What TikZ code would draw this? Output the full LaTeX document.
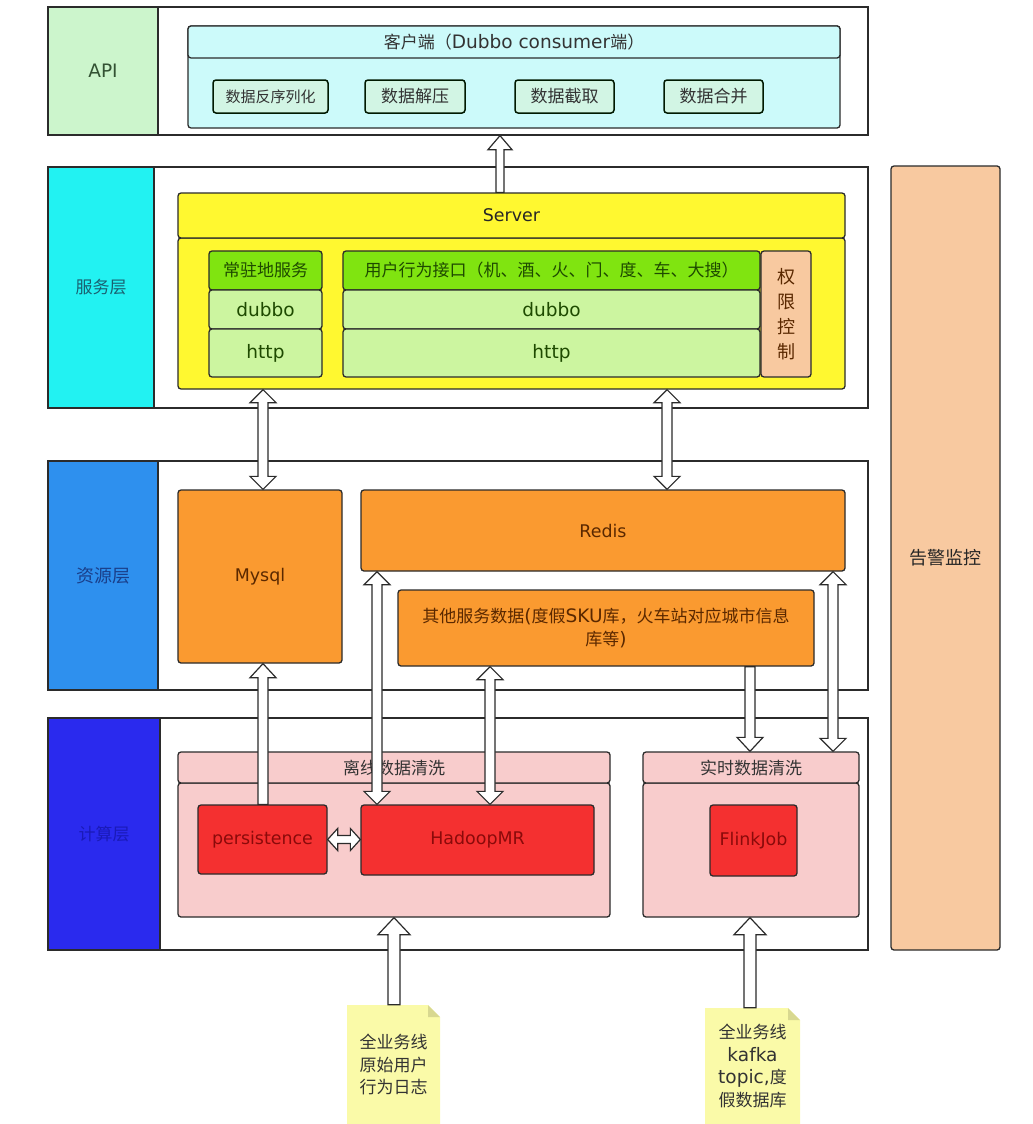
\documentclass[tikz,border=0pt]{standalone}
\usepackage{fontspec}
\setmainfont{Noto Sans CJK SC}
\newfontfamily\lt[Scale=1.09]{DejaVu Sans}
\usetikzlibrary{calc}
\definecolor{lc}{HTML}{2B2B2B}
\definecolor{apigreen}{HTML}{CCF5CC}
\definecolor{cyanl}{HTML}{CCFAFA}
\definecolor{smallbox}{HTML}{D2F5E4}
\definecolor{svccyan}{HTML}{22F2F2}
\definecolor{yel}{HTML}{FFF830}
\definecolor{gbright}{HTML}{80E410}
\definecolor{glight}{HTML}{CCF5A0}
\definecolor{peach}{HTML}{F8C9A0}
\definecolor{resblue}{HTML}{2E90EE}
\definecolor{orng}{HTML}{FA9A30}
\definecolor{cmpblue}{HTML}{2A2AEE}
\definecolor{pinkg}{HTML}{F8CCCC}
\definecolor{redn}{HTML}{F43030}
\definecolor{notey}{HTML}{FAFAA8}
\definecolor{notef}{HTML}{D8D890}
\definecolor{browntext}{HTML}{5A2800}
\definecolor{redtext}{HTML}{8A0A0A}
\definecolor{tealtext}{HTML}{1A6070}
\definecolor{navytext}{HTML}{1A3F8A}
\definecolor{cmptext}{HTML}{1A1AB8}
\definecolor{greentext}{HTML}{1E4A00}
\newcommand\bx[7]{%
  \pgfmathsetmacro\bxw{#5-#3}\pgfmathsetmacro\bxh{#6-#4}%
  \node[#2, minimum width=\bxw pt, minimum height=\bxh pt] (#1) at ({(#3+#5)/2},{(#4+#6)/2}) {#7};}
% vertical block arrows: #1 start, #2 end, #3 shaft half, #4 head half, #5 head length
\newcommand\vsingle[5]{%
  \draw[blk] let \p1=#1, \p2=#2, \n1={sign(\y2-\y1)} in
  ({\x1-#3},\y1) -- ({\x1-#3},{\y2-\n1*#5}) -- ({\x1-#4},{\y2-\n1*#5}) -- (\x1,\y2)
  -- ({\x1+#4},{\y2-\n1*#5}) -- ({\x1+#3},{\y2-\n1*#5}) -- ({\x1+#3},\y1) -- cycle;}
\newcommand\vdouble[5]{%
  \draw[blk] let \p1=#1, \p2=#2, \n1={sign(\y2-\y1)} in
  ({\x1-#3},{\y1+\n1*#5}) -- ({\x1-#4},{\y1+\n1*#5}) -- (\x1,\y1) -- ({\x1+#4},{\y1+\n1*#5})
  -- ({\x1+#3},{\y1+\n1*#5}) -- ({\x1+#3},{\y2-\n1*#5}) -- ({\x1+#4},{\y2-\n1*#5}) -- (\x1,\y2)
  -- ({\x1-#4},{\y2-\n1*#5}) -- ({\x1-#3},{\y2-\n1*#5}) -- cycle;}
\begin{document}
\begin{tikzpicture}[x=1pt,y=-1pt,
  rect/.style={draw=lc, line width=1.3pt, inner sep=0pt},
  box/.style={draw=lc, line width=1.3pt, rounded corners=3pt, inner sep=0pt},
  blk/.style={draw=lc, fill=white, line width=1.2pt, line join=miter},
  f15/.style={font=\fontsize{15pt}{19pt}\selectfont},
  f16/.style={font=\fontsize{16pt}{23pt}\selectfont},
  f17/.style={font=\fontsize{17pt}{22.5pt}\selectfont},
  f18/.style={font=\fontsize{18pt}{25pt}\selectfont},
  sbox/.style={box, fill=smallbox, draw=black!75!green!40!black, line width=1.5pt, f15, text=black!80},
  gtop/.style={box, fill=gbright, f17, text=greentext},
  glo/.style={box, fill=glight, f17, text=greentext},
  orbox/.style={box, fill=orng, f16, text=browntext},
  rdbox/.style={box, fill=redn, f16, text=redtext},
  pkbox/.style={box, fill=pinkg, f16, text=black!80}
]
\fill[white] (0,0) rectangle (1033,1124);
\useasboundingbox (0,0) rectangle (1033,1124);

% x positions of the block arrows
\coordinate (xa) at (500,0);
\coordinate (xb) at (263,0);
\coordinate (xc) at (667,0);
\coordinate (xd) at (377,0);
\coordinate (xe) at (490,0);
\coordinate (xf) at (750,0);
\coordinate (xg) at (833,0);
\coordinate (xh) at (394,0);

% ---------------- API layer
\bx{apiout}{rect, fill=white}{48}{7}{868}{135}{}
\bx{apilab}{rect, fill=apigreen, f17, text=green!15!black!80}{48}{7}{158}{135}{\lt API}
\bx{client}{box, fill=cyanl}{188}{26}{840}{128}{}
\bx{clienthead}{box, fill=cyanl, f17, text=black!80}{188}{26}{840}{58}{客户端（{\lt Dubbo consumer}端）}
\bx{s1}{sbox}{213}{80}{328}{113}{数据反序列化}
\bx{s2}{sbox, f17}{365}{80}{465}{113}{数据解压}
\bx{s3}{sbox, f17}{515}{80}{614}{113}{数据截取}
\bx{s4}{sbox, f17}{664}{80}{763}{113}{数据合并}

% ---------------- service layer
\bx{svcout}{rect, fill=white}{48}{167}{868}{408}{}
\bx{svclab}{rect, fill=svccyan, f17, text=tealtext}{48}{167}{154}{408}{服务层}
\bx{srvbody}{box, fill=yel}{178}{238}{845}{389}{}
\bx{srvhead}{box, fill=yel, f16, text=black!85}{178}{193}{845}{238}{\lt Server}
\bx{g1}{gtop}{209}{251}{322}{290}{常驻地服务}
\bx{g2}{glo}{209}{290}{322}{329}{\lt dubbo}
\bx{g3}{glo}{209}{329}{322}{377}{\lt http}
\bx{u1}{gtop}{343}{251}{760}{290}{用户行为接口（机、酒、火、门、度、车、大搜）}
\bx{u2}{glo}{343}{290}{760}{329}{\lt dubbo}
\bx{u3}{glo}{343}{329}{760}{377}{\lt http}
\bx{perm}{box, fill=peach, f18, align=center, text=browntext}{761}{251}{811}{377}{权\\限\\控\\制}

% ---------------- alarm column
\bx{alarm}{box, fill=peach, f18, text=black!85}{891}{166}{1000}{950}{告警监控}

% ---------------- resource layer
\bx{resout}{rect, fill=white}{48}{461}{868}{690}{}
\bx{reslab}{rect, fill=resblue, f18, text=navytext}{48}{461}{158}{690}{资源层}
\bx{mysql}{orbox}{178}{490}{342}{663}{\lt Mysql}
\bx{redis}{orbox}{361}{490}{845}{571}{\lt Redis}
\bx{other}{orbox, f17, align=center}{398}{590}{814}{666}{其他服务数据{\lt (}度假{\lt SKU}库，火车站对应城市信息\\库等{\lt )}}

% ---------------- compute layer
\bx{cmpout}{rect, fill=white}{48}{718}{868}{950}{}
\bx{cmplab}{rect, fill=cmpblue, f17, text=cmptext}{48}{718}{160}{950}{计算层}
\bx{offbody}{pkbox}{178}{783}{610}{917}{}
\bx{offhead}{pkbox, f17}{178}{752}{610}{783}{离线数据清洗}
\bx{rtbody}{pkbox}{643}{783}{859}{917}{}
\bx{rthead}{pkbox, f17}{643}{752}{859}{783}{实时数据清洗}
\bx{persist}{rdbox}{198}{805}{327}{874}{\lt persistence}
\bx{hadoop}{rdbox}{361}{805}{594}{875}{\lt HadoopMR}
\bx{flink}{rdbox}{710}{805}{797}{876}{\lt FlinkJob}

% ---------------- notes
\fill[notey] (347,1005) -- (428,1005) -- (440,1017) -- (440,1124) -- (347,1124) -- cycle;
\fill[notef] (428,1005) -- (428,1017) -- (440,1017) -- cycle;
\node[f17, align=center, text=black!80, minimum width=93pt, minimum height=119pt, inner sep=0pt] (note1) at (393.5,1064.5) {全业务线\\原始用户\\行为日志};
\fill[notey] (705,1008) -- (788,1008) -- (800,1020) -- (800,1124) -- (705,1124) -- cycle;
\fill[notef] (788,1008) -- (788,1020) -- (800,1020) -- cycle;
\node[f17, align=center, text=black!80, minimum width=95pt, minimum height=116pt, inner sep=0pt] (note2) at (752.5,1066) {全业务线\\{\lt kafka}\\{\lt topic,}度\\假数据库};

% ---------------- block arrows
\vsingle{(srvhead.north -| xa)}{(apiout.south)}{4pt}{12pt}{14pt}
\vdouble{(srvbody.south -| xb)}{(mysql.north)}{5pt}{13pt}{13pt}
\vdouble{(srvbody.south -| xc)}{(redis.north)}{5pt}{13pt}{13pt}
\vsingle{(persist.north -| xb)}{(mysql.south)}{5pt}{13pt}{14pt}
\vdouble{(redis.south -| xd)}{(hadoop.north)}{5pt}{13pt}{13pt}
\vdouble{(other.south -| xe)}{(hadoop.north)}{5pt}{13pt}{13pt}
\vsingle{(other.south -| xf)}{(rthead.north)}{5pt}{13pt}{14pt}
\vdouble{(redis.south -| xg)}{(rthead.north)}{5pt}{13pt}{13pt}
\vsingle{(note1.north -| xh)}{(offbody.south)}{6pt}{16pt}{17pt}
\vsingle{(note2.north -| xf)}{(rtbody.south)}{6pt}{16pt}{17pt}
\draw[blk] let \p1=(persist.east), \p2=(hadoop.west) in
  (\x1,\y1) -- ({\x1+10pt},{\y1-11pt}) -- ({\x1+10pt},{\y1-4pt}) -- ({\x2-10pt},{\y1-4pt}) -- ({\x2-10pt},{\y1-11pt})
  -- (\x2,\y1) -- ({\x2-10pt},{\y1+11pt}) -- ({\x2-10pt},{\y1+4pt}) -- ({\x1+10pt},{\y1+4pt}) -- ({\x1+10pt},{\y1+11pt}) -- cycle;
\end{tikzpicture}
\end{document}
